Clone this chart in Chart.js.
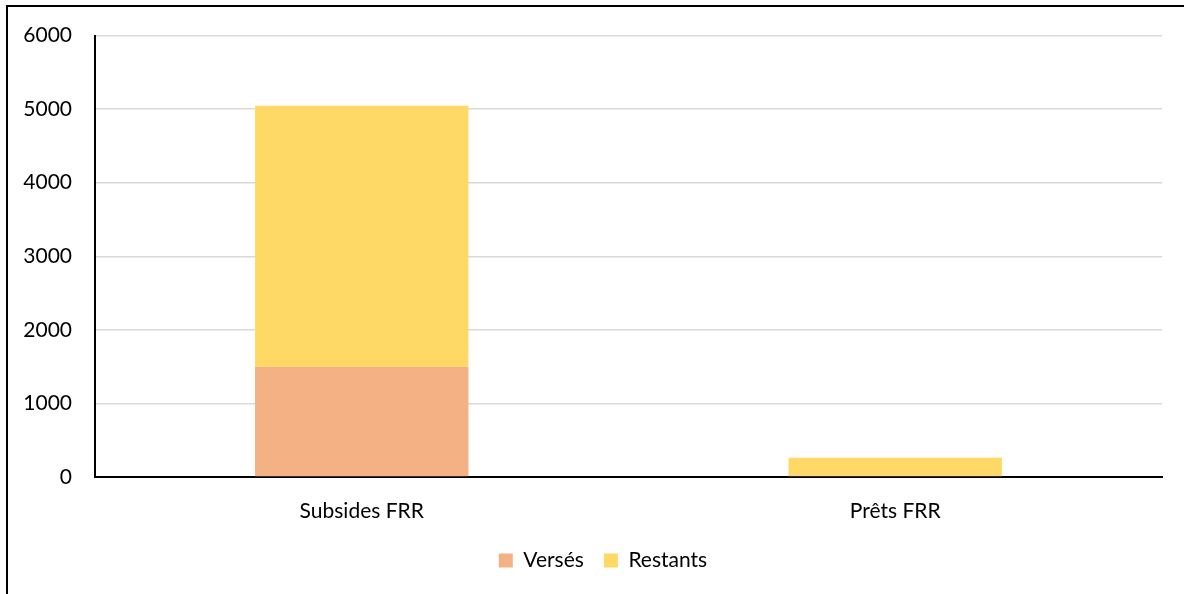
<!DOCTYPE html>
<html>
<head>
<meta charset="utf-8">
<script src="https://cdn.jsdelivr.net/npm/chart.js@4.4.1/dist/chart.umd.min.js"></script>
<style>
  html, body { margin: 0; padding: 0; background: #fff; overflow: hidden; }
  #frame {
    position: absolute; left: 6px; top: 5px; width: 1300px; height: 700px;
    border-left: 2px solid #000; border-top: 2px solid #000;
  }
  #wrap { position: absolute; left: 0; top: 0; width: 1184px; height: 594px; }
</style>
</head>
<body>
<div id="frame"></div>
<div id="wrap"><canvas id="fundsChart"></canvas></div>
<script>
const categories = ['Subsides FRR', 'Prêts FRR'];
const verses = [1500, 20];
const restants = [3545, 240];
const yTicks = [0, 1000, 2000, 3000, 4000, 5000, 6000];

const ctx = document.getElementById('fundsChart');
const font = { family: 'Lato', size: 21 };

// nudge the legend a bit to the right, like the original
const legendShift = {
    id: 'legendShift',
    beforeDraw(chart) {
        if (chart.legend && !chart.legend._shifted) {
            chart.legend.left += 22;
            chart.legend.right += 22;
            chart.legend._shifted = true;
        }
    },
    afterLayout(chart) {
        if (chart.legend) chart.legend._shifted = false;
    }
};

new Chart(ctx, {
    type: 'bar',
    data: {
        labels: categories,
        datasets: [{
            label: 'Versés',
            data: verses,
            backgroundColor: '#F4B183'
        }, {
            label: 'Restants',
            data: restants,
            backgroundColor: '#FFD966'
        }]
    },
    options: {
        responsive: true,
        maintainAspectRatio: false,
        animation: false,
        categoryPercentage: 1,
        barPercentage: 0.4,
        layout: { padding: { left: 0, right: 22, top: 34, bottom: 13 } },
        plugins: {
            legend: {
                position: 'bottom',
                labels: {
                    color: '#000',
                    font: font,
                    boxWidth: 14,
                    boxHeight: 14,
                    padding: 20
                }
            },
            tooltip: { enabled: false }
        },
        scales: {
            x: {
                stacked: true,
                grid: { display: false, drawTicks: false },
                border: { color: '#000', width: 2 },
                ticks: { color: '#000', font: font, padding: 22 },
                afterFit: (scale) => { scale.height = 53; }
            },
            y: {
                stacked: true,
                min: 0,
                max: 6000,
                afterBuildTicks: (scale) => { scale.ticks = yTicks.map(v => ({ value: v })); },
                grid: { color: '#D9D9D9', lineWidth: 1.5, drawTicks: false },
                border: { color: '#000', width: 2 },
                ticks: { color: '#000', font: font, padding: 23, callback: (v) => String(v) },
                afterFit: (scale) => { scale.width = 95; }
            }
        }
    },
    plugins: [legendShift]
});
</script>
</body>
</html>
